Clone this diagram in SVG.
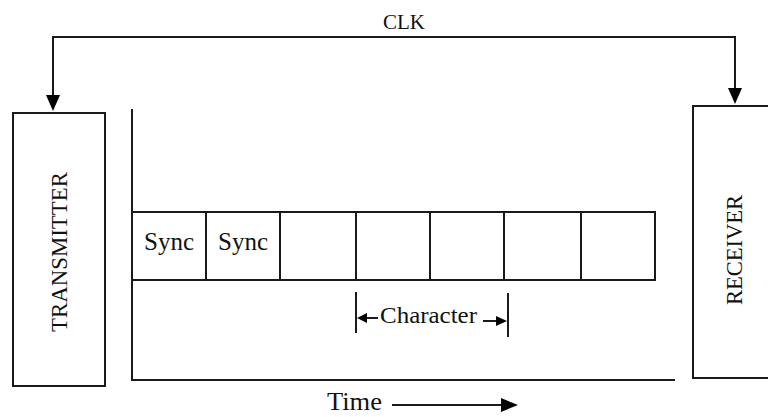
<svg xmlns="http://www.w3.org/2000/svg" width="768" height="417" viewBox="0 0 768 417">
<style>
.ln{stroke:#1a1a1a;stroke-width:2;fill:none}
.bx{stroke:#1a1a1a;stroke-width:2;fill:#fff}
.ah{fill:#000;stroke:none}
.t{font-family:'Liberation Serif','DejaVu Serif',serif;fill:#111}
</style>
<rect width="768" height="417" fill="#fff"/>
<g id="transmitter">
<rect class="bx" x="13" y="113" width="92" height="273"/>
<text class="t" font-family="Liberation Serif, DejaVu Serif, serif" transform="translate(67,252) rotate(-90)" font-size="23" text-anchor="middle" textLength="160" lengthAdjust="spacingAndGlyphs">TRANSMITTER</text>
</g>
<g id="receiver">
<rect class="bx" x="693" y="106" width="80" height="272"/>
<text class="t" font-family="Liberation Serif, DejaVu Serif, serif" transform="translate(742,250) rotate(-90)" font-size="23" text-anchor="middle" textLength="110" lengthAdjust="spacingAndGlyphs">RECEIVER</text>
</g>
<g id="axes">
<line class="ln" x1="132" y1="109" x2="132" y2="380"/>
<line class="ln" x1="131" y1="380" x2="675" y2="380"/>
</g>
<g id="frame">
<rect class="bx" x="132" y="212" width="523" height="68"/>
<line class="ln" x1="206" y1="212" x2="206" y2="280"/>
<line class="ln" x1="280" y1="212" x2="280" y2="280"/>
<line class="ln" x1="356" y1="212" x2="356" y2="280"/>
<line class="ln" x1="430" y1="212" x2="430" y2="280"/>
<line class="ln" x1="504" y1="212" x2="504" y2="280"/>
<line class="ln" x1="581" y1="212" x2="581" y2="280"/>
<text class="t" font-family="Liberation Serif, DejaVu Serif, serif" x="169" y="250" font-size="25" text-anchor="middle">Sync</text>
<text class="t" font-family="Liberation Serif, DejaVu Serif, serif" x="243" y="250" font-size="25" text-anchor="middle">Sync</text>
</g>
<g id="character">
<line class="ln" x1="356" y1="292" x2="356" y2="333"/>
<line class="ln" x1="508" y1="293" x2="508" y2="337"/>
<text class="t" font-family="Liberation Serif, DejaVu Serif, serif" x="380" y="323" font-size="23" textLength="97" lengthAdjust="spacingAndGlyphs">Character</text>
</g>
<g id="clk-label">
<text class="t" font-family="Liberation Serif, DejaVu Serif, serif" x="404" y="29" font-size="21" text-anchor="middle">CLK</text>
</g>
<g id="time-label">
<text class="t" font-family="Liberation Serif, DejaVu Serif, serif" x="327" y="410" font-size="25" textLength="55" lengthAdjust="spacingAndGlyphs">Time</text>
</g>
<g id="connectors">
<polyline class="ln" points="53,95 53,37 735,37 735,88"/>
<polygon class="ah" points="46,95 60,95 53,111"/>
<polygon class="ah" points="728,88 742,88 735,104"/>
<line class="ln" x1="366" y1="318" x2="378" y2="318"/>
<polygon class="ah" points="357,318 367,313 367,323"/>
<line class="ln" x1="483" y1="321" x2="496" y2="321"/>
<polygon class="ah" points="507,321 496,316 496,326"/>
<line class="ln" x1="392" y1="405" x2="502" y2="405"/>
<polygon class="ah" points="518,405 501,398 501,412"/>
</g>
</svg>
